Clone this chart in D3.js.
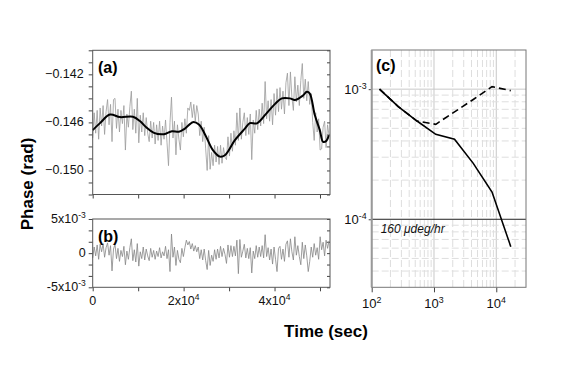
<!DOCTYPE html>
<html>
<head>
<meta charset="utf-8">
<script src="https://cdn.jsdelivr.net/npm/d3@7"></script>
<style>
body { margin: 0; background: #fff; }
svg { display: block; font-family: "Liberation Sans", Arial, sans-serif; }
</style>
</head>
<body>
<script>
// raw phase record, one sample every dt seconds (values in mrad)
var dt = 327;
var rawPhaseMrad = [
  -147.3,-145.2,-146.9,-145.0,-147.4,-144.8,-146.3,-144.6,-147.0,-145.1,
  -144.1,-146.2,-144.5,-147.6,-144.1,-144.0,-146.5,-144.9,-146.8,-145.0,
  -146.1,-144.6,-148.3,-145.3,-146.4,-144.7,-143.4,-146.6,-144.9,-146.9,
  -144.0,-147.7,-145.4,-146.8,-145.2,-147.1,-145.6,-146.9,-147.6,-145.9,
  -147.3,-146.0,-147.8,-146.2,-147.5,-145.9,-147.9,-146.3,-147.4,-145.8,
  -147.7,-149.6,-146.0,-143.9,-147.3,-145.9,-148.7,-146.2,-147.4,-148.3,
  -146.0,-147.2,-145.7,-146.9,-144.8,-145.0,-144.3,-145.6,-144.5,-145.9,
  -144.6,-145.3,-147.1,-145.9,-147.6,-146.4,-148.2,-150.0,-147.1,-149.9,
  -148.5,-149.6,-147.9,-149.3,-148.0,-149.5,-147.9,-149.4,-148.1,-148.9,
  -149.1,-147.2,-148.8,-146.9,-148.4,-146.7,-147.9,-145.2,-147.5,-144.8,
  -147.4,-146.0,-145.2,-147.1,-145.6,-147.0,-145.3,-149.1,-145.8,-146.9,
  -145.0,-146.6,-144.9,-146.3,-144.4,-146.1,-142.6,-145.7,-144.2,-145.9,
  -144.1,-146.2,-143.6,-145.4,-143.2,-145.1,-143.1,-144.9,-143.4,-145.3,
  -142.7,-141.9,-144.6,-141.8,-143.9,-145.0,-142.2,-144.3,-142.9,-144.6,
  -142.5,-141.1,-144.0,-142.4,-144.2,-142.6,-144.5,-143.6,-146.0,-147.5,
  -145.2,-146.8,-145.7,-148.3,-148.2,-146.4,-145.9,-148.1,-146.2,-147.1
];

// smoothed phase (sec, mrad)
var smoothTime = [0, 1604, 3802, 6000, 8857, 10396, 11714, 13473, 15670, 17429,
  18967, 20286, 22044, 23363, 24681, 26440, 27978, 29077, 31275, 33473,
  34571, 36110, 38088, 40066, 41604, 43363, 44462, 46220, 47100, 47758,
  48857, 49956, 50681, 51429, 51934];
var smoothMrad = [-146.64, -146.06, -145.35, -145.56, -145.53, -145.89, -146.39, -146.87, -146.98, -146.73,
  -146.78, -146.52, -145.98, -146.18, -146.98, -148.31, -148.85, -148.73, -147.48, -146.52,
  -146.06, -146.08, -145.31, -144.48, -144.00, -144.00, -144.14, -143.77, -143.45, -143.60,
  -145.39, -146.64, -147.62, -147.52, -147.06];

// residual after removing the smooth part (mrad)
var residualMrad = [
  -0.7,0.9,-0.4,1.2,-0.9,1.3,0.2,1.4,-0.6,0.8,
  1.5,-0.3,1.1,-2.6,0.6,1.3,-0.8,0.7,-1.2,0.4,
  -0.5,1.0,-1.7,0.3,-0.9,0.8,2.1,-1.1,0.5,-1.3,
  1.4,-1.9,0.2,-0.8,0.9,-1.0,0.6,-0.4,-1.1,0.7,
  -0.6,0.4,-0.9,0.3,-0.5,0.8,-0.7,0.2,-0.4,1.0,
  -0.8,0.5,-2.7,2.8,-0.6,0.9,-1.8,0.4,-0.9,-1.4,
  0.7,-0.5,0.8,1.9,1.2,1.7,0.6,1.4,0.3,1.1,
  0.2,0.9,-0.8,0.5,-1.0,0.6,-1.1,-2.4,0.4,-1.8,
  -0.3,-1.2,0.5,-0.9,0.6,-0.7,1.0,-0.5,0.7,-0.2,
  -1.5,1.2,-0.6,1.1,-0.5,1.0,-0.4,1.9,-3.0,2.0,
  -0.6,0.3,1.3,-0.7,0.7,-0.8,0.8,-2.9,0.3,-0.8,
  1.1,-0.6,0.9,-0.5,1.1,-0.7,2.7,-0.5,0.8,-1.0,
  0.6,-1.6,0.9,-0.9,-2.7,0.7,1.0,-0.9,0.6,-1.2,
  1.3,1.8,-0.6,2.1,0.2,-1.0,2.4,-0.3,1.1,-0.5,
  -1.7,1.6,-0.8,1.2,-0.4,-2.7,-1.2,0.9,-0.6,1.4,
  -0.3,0.8,-0.9,2.4,0.5,1.6,-0.4,1.9,0.7,1.8
];

// Allan deviation, panel (c)
var tau = [133.5, 267, 534, 1068, 2136, 4272, 8544, 17088];
var adevSolid = [1.0e-3, 7.34e-4, 5.69e-4, 4.50e-4, 4.12e-4, 2.69e-4, 1.62e-4, 6.16e-5];
var adevDashed = [1.0e-3, 7.34e-4, 5.69e-4, 5.37e-4, 6.69e-4, 8.33e-4, 1.045e-3, 9.74e-4];
var refLevel = 1e-4;
var refLabel = "160 \u03bcdeg/hr";

// tick labels
var yTicksA = [-0.142, -0.146, -0.150];
var yTicksB = [[5e-3, "5x10", "-3"], [0, "0", ""], [-5e-3, "-5x10", "-3"]];
var xTicksB = [[0, "0", ""], [2e4, "2x10", "4"], [4e4, "4x10", "4"]];
var xTicksC = [[1e2, "10", "2"], [1e3, "10", "3"], [1e4, "10", "4"]];
var yTicksC = [[1e-3, "10", "-3"], [1e-4, "10", "-4"]];

var w = 575;
var h = 372;
var svg = d3.select("body")
            .append("svg")
            .attr("width", w)
            .attr("height", h);

svg.append("rect").attr("width", w).attr("height", h).attr("fill", "white");

// panel extents
var leftA = 92.7, rightA = 330;
var topA = 50.3, botA = 194.5;
var topB = 219, botB = 287.3;
var leftC = 371.7, rightC = 526, topC = 50, botC = 287.3;

var xA = d3.scaleLinear().domain([0, 52200]).range([leftA, rightA]);
var yA = d3.scaleLinear().domain([-0.152, -0.140]).range([botA, topA]);
var yB = d3.scaleLinear().domain([-5e-3, 5e-3]).range([botB, topB]);
var xC = d3.scaleLog().domain([100, 30000]).range([leftC, rightC]);
var yC = d3.scaleLog().domain([3e-5, 2e-3]).range([botC, topC]);

function sci(g, x, y, anchor, mant, exp, size) {
  var t = g.append("text")
           .attr("x", x)
           .attr("y", y)
           .attr("text-anchor", anchor)
           .attr("font-size", size)
           .attr("fill", "#111");
  t.append("tspan").text(mant);
  if (exp) {
    t.append("tspan")
     .attr("dy", -size * 0.42)
     .attr("font-size", size * 0.68)
     .text(exp);
  }
}

function styleAxis(g) {
  g.select(".domain").remove();
  g.selectAll(".tick line").attr("stroke", "#444");
}

var xTicks = [0, 1e4, 2e4, 3e4, 4e4, 5e4];

// ---------- panel (a)
var gA = svg.append("g");
gA.append("g")
  .attr("transform", "translate(" + leftA + ",0)")
  .call(d3.axisLeft(yA).tickValues(d3.range(-0.152, -0.1395, 0.001)).tickSize(4).tickFormat(""))
  .call(styleAxis);
gA.append("g")
  .attr("transform", "translate(" + rightA + ",0)")
  .call(d3.axisLeft(yA).tickValues(d3.range(-0.152, -0.1395, 0.001)).tickSize(3).tickFormat(""))
  .call(styleAxis);
gA.append("g")
  .attr("transform", "translate(0," + botA + ")")
  .call(d3.axisBottom(xA).tickValues(xTicks).tickSize(4).tickFormat(""))
  .call(styleAxis);

gA.selectAll("text.ya")
  .data(yTicksA)
  .enter()
  .append("text")
  .attr("class", "ya")
  .attr("x", leftA - 9)
  .attr("y", function(d) { return yA(d) + 4; })
  .attr("text-anchor", "end")
  .attr("font-size", 12.5)
  .attr("fill", "#111")
  .text(function(d) { return d3.format(".3f")(d); });

var rawLine = d3.line()
  .x(function(d, i) { return xA(i * dt); })
  .y(function(d) { return yA(d / 1000); });
gA.append("path")
  .datum(rawPhaseMrad)
  .attr("d", rawLine)
  .attr("fill", "none")
  .attr("stroke", "#9a9a9a")
  .attr("stroke-width", 0.8);

var smoothLine = d3.line()
  .x(function(d, i) { return xA(smoothTime[i]); })
  .y(function(d) { return yA(d / 1000); })
  .curve(d3.curveCatmullRom);
gA.append("path")
  .datum(smoothMrad)
  .attr("d", smoothLine)
  .attr("fill", "none")
  .attr("stroke", "#000")
  .attr("stroke-width", 2);

gA.append("rect")
  .attr("x", leftA).attr("y", topA)
  .attr("width", rightA - leftA).attr("height", botA - topA)
  .attr("fill", "none").attr("stroke", "#555");

gA.append("text")
  .attr("x", 98).attr("y", 73)
  .attr("font-size", 16).attr("font-weight", "bold")
  .text("(a)");

// ---------- panel (b)
var gB = svg.append("g");
var bTicks = d3.range(0, 7).map(function(k) { return -5e-3 + k * 5e-3 / 3; });
gB.append("g")
  .attr("transform", "translate(" + leftA + ",0)")
  .call(d3.axisLeft(yB).tickValues(bTicks).tickSize(4).tickFormat(""))
  .call(styleAxis);
gB.append("g")
  .attr("transform", "translate(" + rightA + ",0)")
  .call(d3.axisLeft(yB).tickValues(bTicks).tickSize(3).tickFormat(""))
  .call(styleAxis);
gB.append("g")
  .attr("transform", "translate(0," + botB + ")")
  .call(d3.axisBottom(xA).tickValues(xTicks).tickSize(4).tickFormat(""))
  .call(styleAxis);

yTicksB.forEach(function(d) {
  sci(gB, leftA - 7, yB(d[0]) + 4, "end", d[1], d[2], 12.5);
});
xTicksB.forEach(function(d) {
  sci(gB, xA(d[0]), 305, "middle", d[1], d[2], 12.5);
});

gB.append("path")
  .datum(residualMrad)
  .attr("d", d3.line()
    .x(function(d, i) { return xA(i * dt); })
    .y(function(d) { return yB(d / 1000); }))
  .attr("fill", "none")
  .attr("stroke", "#858585")
  .attr("stroke-width", 0.8);

gB.append("rect")
  .attr("x", leftA).attr("y", topB)
  .attr("width", rightA - leftA).attr("height", botB - topB)
  .attr("fill", "none").attr("stroke", "#555");

gB.append("text")
  .attr("x", 98).attr("y", 241.5)
  .attr("font-size", 16).attr("font-weight", "bold")
  .text("(b)");

// ---------- panel (c)
var gC = svg.append("g");
var isDecade = function(v) { return Math.abs(Math.log10(v) - Math.round(Math.log10(v))) < 1e-6; };

gC.selectAll("line.vgrid")
  .data(xC.ticks().filter(function(v) { return v > 100 && v < 30000; }))
  .enter()
  .append("line")
  .attr("class", "vgrid")
  .attr("x1", function(d) { return xC(d); })
  .attr("x2", function(d) { return xC(d); })
  .attr("y1", topC).attr("y2", botC)
  .attr("stroke", function(d) { return isDecade(d) ? "#c8c8c8" : "#dedede"; })
  .attr("stroke-dasharray", function(d) { return isDecade(d) ? null : "7,3"; });

gC.selectAll("line.hgrid")
  .data(yC.ticks().filter(function(v) { return v > 3e-5 && v < 2e-3 && v !== refLevel; }))
  .enter()
  .append("line")
  .attr("class", "hgrid")
  .attr("y1", function(d) { return yC(d); })
  .attr("y2", function(d) { return yC(d); })
  .attr("x1", leftC).attr("x2", rightC)
  .attr("stroke", function(d) { return isDecade(d) ? "#c8c8c8" : "#dedede"; })
  .attr("stroke-dasharray", function(d) { return isDecade(d) ? null : "7,3"; });

gC.append("g")
  .attr("transform", "translate(0," + botC + ")")
  .call(d3.axisBottom(xC).tickValues(xTicksC.map(function(d) { return d[0]; })).tickSize(5).tickFormat(""))
  .call(styleAxis);
gC.append("g")
  .attr("transform", "translate(" + leftC + ",0)")
  .call(d3.axisLeft(yC).tickValues(yTicksC.map(function(d) { return d[0]; })).tickSize(3).tickFormat(""))
  .call(styleAxis);

xTicksC.forEach(function(d) {
  sci(gC, xC(d[0]), 308, "middle", d[1], d[2], 13);
});
yTicksC.forEach(function(d) {
  sci(gC, leftC - 5, yC(d[0]) + 5, "end", d[1], d[2], 13);
});

gC.append("line")
  .attr("x1", leftC).attr("x2", rightC)
  .attr("y1", yC(refLevel)).attr("y2", yC(refLevel))
  .attr("stroke", "#222").attr("stroke-width", 1);
gC.append("text")
  .attr("x", leftC + 9).attr("y", yC(refLevel) + 14)
  .attr("font-size", 12).attr("font-style", "italic")
  .attr("fill", "#111")
  .text(refLabel);

var adevLine = d3.line()
  .x(function(d, i) { return xC(tau[i]); })
  .y(function(d) { return yC(d); });
gC.append("path")
  .datum(adevDashed)
  .attr("d", adevLine)
  .attr("fill", "none")
  .attr("stroke", "#000")
  .attr("stroke-width", 1.6)
  .attr("stroke-dasharray", "7,4");
gC.append("path")
  .datum(adevSolid)
  .attr("d", adevLine)
  .attr("fill", "none")
  .attr("stroke", "#000")
  .attr("stroke-width", 1.6);

gC.append("rect")
  .attr("x", leftC).attr("y", topC)
  .attr("width", rightC - leftC).attr("height", botC - topC)
  .attr("fill", "none").attr("stroke", "#777");
gC.append("line")
  .attr("x1", leftC).attr("x2", leftC)
  .attr("y1", topC).attr("y2", botC)
  .attr("stroke", "#999").attr("stroke-width", 2);

gC.append("text")
  .attr("x", 376).attr("y", 70.5)
  .attr("font-size", 16).attr("font-weight", "bold")
  .text("(c)");

// ---------- axis titles
svg.append("text")
  .attr("transform", "translate(33,184) rotate(-90)")
  .attr("text-anchor", "middle")
  .attr("font-size", 17)
  .attr("font-weight", "bold")
  .text("Phase (rad)");

svg.append("text")
  .attr("x", 326).attr("y", 337)
  .attr("text-anchor", "middle")
  .attr("font-size", 17)
  .attr("font-weight", "bold")
  .text("Time (sec)");
</script>
</body>
</html>
